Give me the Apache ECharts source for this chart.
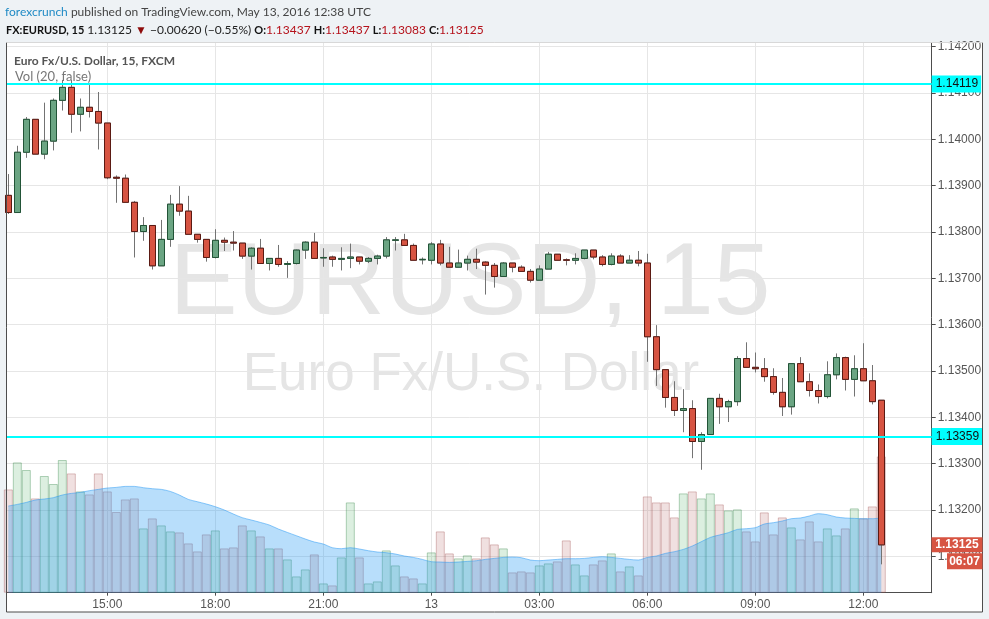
<!DOCTYPE html>
<html><head><meta charset="utf-8">
<script src="https://cdn.jsdelivr.net/npm/echarts@6/dist/echarts.min.js"></script>
<style>html,body{margin:0;padding:0;background:#eef2f5;}#c{width:989px;height:619px;}</style>
</head><body><div id="c"></div>
<script>
// ---- data (EUR/USD 15 min, 12 May 2016 12:15 -> 13 May 2016 12:30 UTC) ----
const startMinute = 735;   // 12:15 on 12 May, minutes since midnight
const stepMinutes = 15;
const opens = [1.13879,1.13842,1.13972,1.14043,1.13968,1.13996,1.14084,1.14112,1.14054,1.14069,
1.14060,1.14035,1.13918,1.13916,1.13864,1.13801,1.13814,1.13727,1.13784,1.13860,
1.13845,1.13795,1.13784,1.13745,1.13782,1.13778,1.13776,1.13748,1.13765,1.13732,
1.13743,1.13730,1.13732,1.13761,1.13778,1.13744,1.13746,1.13741,1.13743,1.13746,
1.13737,1.13743,1.13748,1.13782,1.13783,1.13771,1.13740,1.13739,1.13774,1.13733,
1.13724,1.13733,1.13741,1.13735,1.13728,1.13704,1.13733,1.13724,1.13715,1.13696,
1.13720,1.13752,1.13740,1.13739,1.13743,1.13761,1.13746,1.13730,1.13748,1.13733,
1.13739,1.13733,1.13574,1.13503,1.13443,1.13415,1.13419,1.13348,1.13363,1.13441,
1.13423,1.13434,1.13527,1.13508,1.13505,1.13488,1.13454,1.13423,1.13516,1.13477,
1.13458,1.13445,1.13492,1.13529,1.13482,1.13505,1.13479,1.13437];
const closes = [1.13842,1.13972,1.14043,1.13968,1.13996,1.14084,1.14112,1.14054,1.14069,1.14060,
1.14035,1.13917,1.13916,1.13864,1.13801,1.13814,1.13727,1.13784,1.13860,1.13845,
1.13795,1.13784,1.13745,1.13782,1.13778,1.13776,1.13748,1.13765,1.13732,1.13743,
1.13730,1.13732,1.13761,1.13778,1.13743,1.13745,1.13741,1.13743,1.13746,1.13737,
1.13743,1.13748,1.13783,1.13783,1.13771,1.13739,1.13741,1.13774,1.13733,1.13724,
1.13733,1.13741,1.13735,1.13728,1.13704,1.13733,1.13724,1.13715,1.13696,1.13720,
1.13752,1.13739,1.13739,1.13743,1.13761,1.13746,1.13730,1.13748,1.13733,1.13739,
1.13733,1.13574,1.13503,1.13443,1.13415,1.13419,1.13348,1.13363,1.13441,1.13423,
1.13434,1.13527,1.13508,1.13505,1.13488,1.13454,1.13423,1.13516,1.13477,1.13458,
1.13445,1.13492,1.13529,1.13482,1.13505,1.13479,1.13434,1.13125];
const highs = [1.13925,1.13986,1.14048,1.14043,1.14079,1.14088,1.14128,1.14128,1.14088,1.14117,
1.14102,1.14035,1.13922,1.13924,1.13867,1.13832,1.13814,1.13826,1.13880,1.13899,
1.13878,1.13795,1.13784,1.13806,1.13788,1.13802,1.13776,1.13767,1.13785,1.13743,
1.13772,1.13737,1.13762,1.13780,1.13798,1.13765,1.13749,1.13767,1.13775,1.13746,
1.13746,1.13751,1.13789,1.13789,1.13796,1.13775,1.13745,1.13778,1.13783,1.13768,
1.13762,1.13749,1.13764,1.13737,1.13733,1.13735,1.13733,1.13728,1.13720,1.13728,
1.13757,1.13752,1.13743,1.13754,1.13761,1.13761,1.13750,1.13754,1.13752,1.13750,
1.13759,1.13753,1.13599,1.13503,1.13478,1.13461,1.13437,1.13368,1.13441,1.13451,
1.13438,1.13532,1.13562,1.13540,1.13528,1.13506,1.13485,1.13516,1.13530,1.13495,
1.13471,1.13521,1.13538,1.13531,1.13534,1.13560,1.13513,1.13437];
const lows = [1.13839,1.13842,1.13960,1.13968,1.13957,1.13976,1.14062,1.14014,1.14017,1.14047,
1.13978,1.13914,1.13863,1.13864,1.13745,1.13781,1.13719,1.13727,1.13768,1.13835,
1.13795,1.13777,1.13736,1.13743,1.13759,1.13760,1.13742,1.13719,1.13732,1.13717,
1.13725,1.13701,1.13730,1.13742,1.13742,1.13725,1.13725,1.13717,1.13722,1.13730,
1.13733,1.13730,1.13743,1.13760,1.13771,1.13739,1.13730,1.13730,1.13728,1.13724,
1.13724,1.13717,1.13720,1.13665,1.13680,1.13704,1.13713,1.13715,1.13691,1.13696,
1.13720,1.13739,1.13728,1.13730,1.13741,1.13741,1.13726,1.13728,1.13733,1.13733,
1.13726,1.13520,1.13468,1.13421,1.13403,1.13368,1.13312,1.13287,1.13363,1.13386,
1.13390,1.13425,1.13508,1.13497,1.13477,1.13449,1.13403,1.13406,1.13477,1.13445,
1.13430,1.13441,1.13482,1.13458,1.13445,1.13479,1.13428,1.13083];
const volumes = [1033,1303,1227,943,1167,1087,1327,1193,1013,983,
1193,1013,807,933,943,643,743,673,613,603,
493,413,583,623,443,453,673,623,563,443,
443,333,163,233,383,93,73,353,903,353,
93,113,423,273,163,143,93,403,613,393,
343,373,343,553,483,443,203,213,203,273,
293,313,523,283,173,283,323,393,213,263,
173,963,903,903,753,993,1013,943,993,883,
823,833,613,513,803,583,753,653,533,713,
513,643,573,643,843,743,863,1363];
const volumeMA20 = [867,883,903,927,937,950,977,993,1003,1020,
1033,1047,1053,1063,1063,1050,1040,1033,1013,977,
933,910,887,860,827,787,750,727,703,677,
637,603,570,537,507,487,450,440,450,437,
420,407,400,387,367,353,333,310,307,303,
307,313,320,333,343,353,357,350,327,320,
327,333,340,340,343,353,360,353,343,333,
327,353,367,393,410,433,467,510,553,577,
600,633,640,650,687,700,717,740,747,767,
790,780,757,747,743,740,740,747];
const levelLines = [1.14119, 1.13359];
const lastPrice = 1.13125;
const countdown = '06:07';
const symbolTitle = 'Euro Fx/U.S. Dollar, 15, FXCM';
const volTitle = 'Vol (20, false)';

// ---- build ----
const xs = opens.map((_, i) => startMinute + stepMinutes * i);
const wickData = xs.map((x, i) => [x, opens[i], closes[i], lows[i], highs[i]]);
const bodyData = xs.map((x, i) => [x, opens[i], closes[i], Math.min(opens[i], closes[i]), Math.max(opens[i], closes[i])]);
const volData = xs.map((x, i) => {
  const up = closes[i] >= opens[i];
  return { value: [x, volumes[i]], itemStyle: up
    ? { color: 'rgba(80,175,100,0.2)', borderColor: 'rgba(60,140,80,0.38)' }
    : { color: 'rgba(180,100,100,0.2)', borderColor: 'rgba(160,80,80,0.35)' } };
});
const maData = xs.map((x, i) => [x, volumeMA20[i]]);

const pad = n => (n < 10 ? '0' : '') + n;
const fmtX = v => {
  const m = ((Math.round(v) % 1440) + 1440) % 1440;
  if (m === 0) return '13';
  return pad(Math.floor(m / 60)) + ':' + pad(m % 60);
};

const AX = '#4d4d4d', LBL = '#555', GRID = '#e6e6e6';
const chart = echarts.init(document.getElementById('c'), null, { renderer: 'canvas' });
chart.setOption({
  backgroundColor: '#eef2f5',
  animation: false,
  grid: { left: 6.7, right: 57.3, top: 42.5, bottom: 26.3 },
  xAxis: {
    type: 'value', min: 732.3, max: 2274, minInterval: 180, maxInterval: 180, splitNumber: 8,
    axisLine: { show: true, lineStyle: { color: AX } },
    axisTick: { show: true, length: 3, lineStyle: { color: AX } },
    axisLabel: { formatter: fmtX, color: LBL, fontSize: 12, fontFamily: 'Liberation Sans', margin: 6, showMinLabel: false, showMaxLabel: false },
    splitLine: { show: true, lineStyle: { color: GRID } }
  },
  yAxis: [{
    type: 'value', position: 'right', min: 1.130218, max: 1.142088, minInterval: 0.001, maxInterval: 0.001, splitNumber: 10,
    axisLine: { show: true, lineStyle: { color: AX } },
    axisTick: { show: true, length: 4, lineStyle: { color: AX } },
    axisLabel: { formatter: v => v.toFixed(5), color: LBL, fontSize: 12, fontFamily: 'Liberation Sans', margin: 6, showMinLabel: false, showMaxLabel: false },
    splitLine: { show: true, lineStyle: { color: GRID } }
  }, {
    type: 'value', min: 0, max: 5502, show: false, splitLine: { show: false }
  }],
  series: [
    { type: 'bar', yAxisIndex: 1, data: volData, barWidth: 9, z: 1, itemStyle: { borderWidth: 1 } },
    { type: 'line', yAxisIndex: 1, data: maData, smooth: 0.3, showSymbol: false, z: 2,
      lineStyle: { color: 'rgba(33,150,243,0.5)', width: 1 }, areaStyle: { color: 'rgba(33,150,243,0.45)' } },
    { type: 'candlestick', data: wickData, encode: { x: 0, y: [1, 2, 3, 4] }, barWidth: 6, z: 3,
      itemStyle: { color: 'rgba(0,0,0,0)', color0: 'rgba(0,0,0,0)', borderColor: '#737373', borderColor0: '#737373', borderColorDoji: '#737373', borderWidth: 1 } },
    { type: 'candlestick', data: bodyData, encode: { x: 0, y: [1, 2, 3, 4] }, barWidth: 6, z: 4,
      itemStyle: { color: '#6ba583', color0: '#d75442', borderColor: '#225437', borderColor0: '#5b1a13', borderColorDoji: '#5b1a13', borderWidth: 1 } },
    { type: 'line', data: [], z: 5, silent: true,
      markLine: { symbol: 'none', silent: true, animation: false, precision: 5,
        lineStyle: { color: '#00ffff', width: 2, type: 'solid' },
        label: { show: true, position: 'end', distance: 0, formatter: p => Number(p.value).toFixed(5),
          color: '#111', backgroundColor: '#00ffff', padding: [3, 3, 2, 4], fontSize: 12, fontFamily: 'Liberation Sans' },
        data: levelLines.map(v => ({ yAxis: v })) } }
  ]
});

const py = chart.convertToPixel({ yAxisIndex: 0 }, lastPrice);
const FONT = 'Lato';
chart.setOption({
  graphic: [
    { type: 'rect', z: -10, silent: true, shape: { x: 6.5, y: 42.5, width: 976, height: 569.5 }, style: { fill: '#fff' } },
    { type: 'line', z: 10, silent: true, shape: { x1: 6.5, y1: 42.5, x2: 6.5, y2: 612 }, style: { stroke: AX, lineWidth: 1 } },
    { type: 'line', z: 10, silent: true, shape: { x1: 6.5, y1: 612, x2: 982.5, y2: 612 }, style: { stroke: AX, lineWidth: 1 } },
    { type: 'line', z: 10, silent: true, shape: { x1: 982.5, y1: 42.5, x2: 982.5, y2: 612 }, style: { stroke: AX, lineWidth: 1 } },
    { type: 'line', z: 10, silent: true, shape: { x1: 6.5, y1: 42.5, x2: 982.5, y2: 42.5 }, style: { stroke: '#d8d8d8', lineWidth: 1 } },
    { type: 'text', z: -5, silent: true, x: 470, y: 286, style: { text: 'EURUSD, 15', fill: '#e5e5e5', font: '102px "Liberation Sans"', align: 'center', verticalAlign: 'middle' } },
    { type: 'text', z: -5, silent: true, x: 471, y: 375, style: { text: 'Euro Fx/U.S. Dollar', fill: '#e5e5e5', font: '53px "Liberation Sans"', align: 'center', verticalAlign: 'middle' } },
    { type: 'text', z: 1, silent: true, x: 14, y: 61, style: { text: symbolTitle, fill: '#555', font: 'bold 12px ' + FONT, align: 'left', verticalAlign: 'middle' } },
    { type: 'text', z: 1, silent: true, x: 15, y: 77, style: { text: volTitle, fill: '#777', font: '13px ' + FONT, align: 'left', verticalAlign: 'middle' } },
    { type: 'text', z: 10, silent: true, x: 5, y: 12.5, style: {
      text: '{b|forexcrunch} published on TradingView.com, May 13, 2016 12:38 UTC',
      fill: '#444', font: '12px ' + FONT, align: 'left', verticalAlign: 'middle',
      rich: { b: { fill: '#1f8ac5', font: '12px ' + FONT } } } },
    { type: 'text', z: 10, silent: true, x: 6, y: 30, style: {
      text: '{k|FX:EURUSD, 15} 1.13125 {t|▼} −0.00620 (−0.55%) {k|O:}{r|1.13437} {k|H:}{r|1.13437} {k|L:}{r|1.13083} {k|C:}{r|1.13125}',
      fill: '#222', font: '12px ' + FONT, align: 'left', verticalAlign: 'middle',
      rich: { k: { fill: '#111', font: 'bold 11px ' + FONT }, r: { fill: '#b5121b', font: '12px ' + FONT }, t: { fill: '#8e0b0b', font: '12px ' + FONT } } } },
    { type: 'rect', z: 100, silent: true, shape: { x: 931.5, y: py - 7.5, width: 51, height: 15 }, style: { fill: '#d75442' } },
    { type: 'text', z: 101, silent: true, x: 957, y: py, style: { text: lastPrice.toFixed(5), fill: '#fff', font: 'bold 12px "Liberation Sans"', align: 'center', verticalAlign: 'middle' } },
    { type: 'rect', z: 100, silent: true, shape: { x: 947, y: py + 8.5, width: 35.5, height: 16 }, style: { fill: '#d75442' } },
    { type: 'text', z: 101, silent: true, x: 964.5, y: py + 16.5, style: { text: countdown, fill: '#fff', font: 'bold 12px "Liberation Sans"', align: 'center', verticalAlign: 'middle' } }
  ]
});
</script></body></html>
